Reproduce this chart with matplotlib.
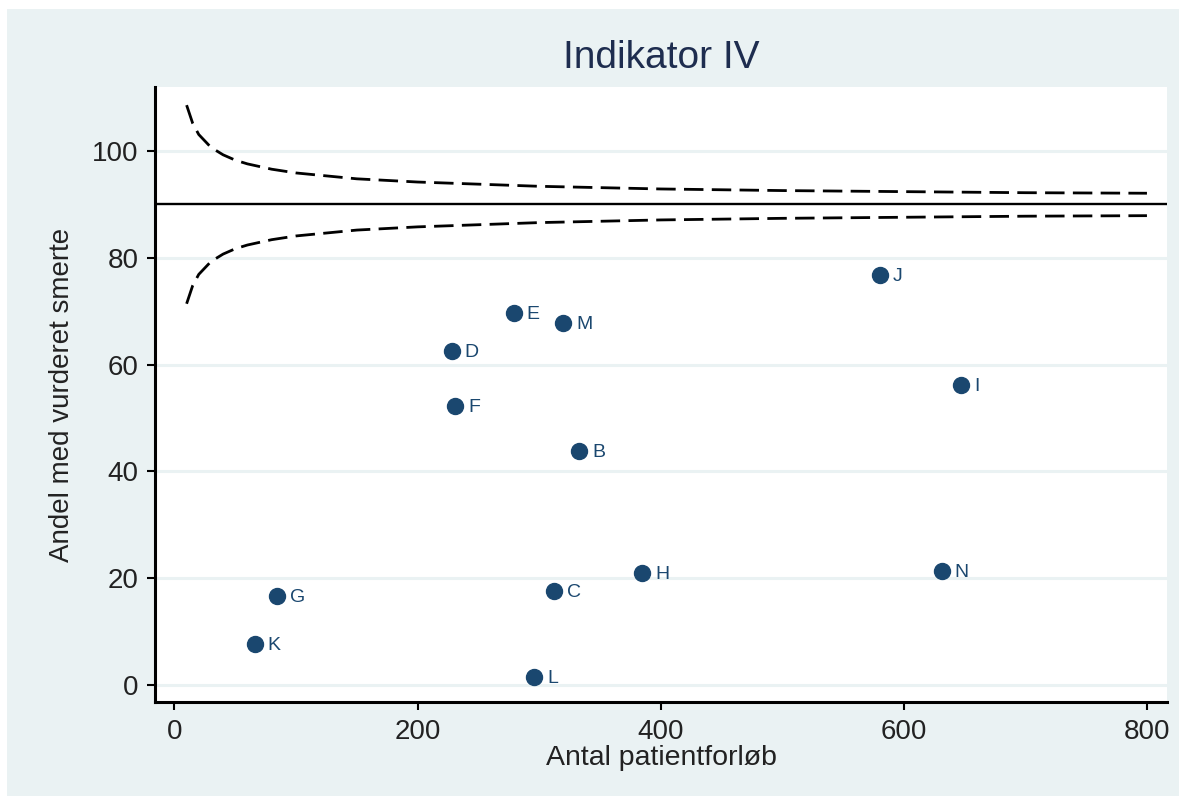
import matplotlib
matplotlib.use("Agg")
import matplotlib.pyplot as plt
from matplotlib.patches import Rectangle

# hospital units: number of patient courses vs share with pain assessed (%)
units = ['E', 'M', 'D', 'F', 'B', 'G', 'K', 'C', 'H', 'L', 'J', 'I', 'N']
n_patients = [279, 320, 228, 231, 333, 84, 66, 312, 385, 296, 580, 647, 631]
share = [69.7, 67.7, 62.5, 52.2, 43.8, 16.7, 7.6, 17.6, 20.9, 1.5, 76.7, 56.1, 21.3]

# overall level and 95% control limits
target = 90
limit_n = [10, 15, 20, 30, 40, 50, 60, 80, 100, 150, 200, 300, 400, 500, 600, 700, 800]
upper = [108.6, 105.2, 103.1, 100.7, 99.3, 98.3, 97.6, 96.6, 95.9, 94.8, 94.2,
         93.4, 92.9, 92.6, 92.4, 92.2, 92.1]
lower = [71.4, 74.8, 76.9, 79.3, 80.7, 81.7, 82.4, 83.4, 84.1, 85.2, 85.8,
         86.6, 87.1, 87.4, 87.6, 87.8, 87.9]

bg = '#eaf2f3'
navy = '#1a476f'
ink = '#222222'

fig = plt.figure(figsize=(11.79, 7.96), dpi=100, facecolor='white')
fig.patches.append(Rectangle((7 / 1179, 0), 1, 1 - 9 / 796, transform=fig.transFigure,
                             facecolor=bg, edgecolor='none', zorder=-10))

ax = fig.add_axes([155 / 1179, 1 - 702 / 796, 1012 / 1179, 615 / 796])
ax.set_facecolor('white')
ax.set_xlim(-16, 816.5)
ax.set_ylim(-3.2, 112.0)

ax.set_yticks([0, 20, 40, 60, 80, 100])
ax.set_xticks([0, 200, 400, 600, 800])
for v in [0, 20, 40, 60, 80, 100]:
    ax.axhline(v, color=bg, lw=2.2, zorder=0)

ax.plot(limit_n, upper, color='black', lw=2.0, ls=(0, (7, 3)), zorder=2)
ax.plot(limit_n, lower, color='black', lw=2.0, ls=(0, (7, 3)), zorder=2)
ax.axhline(target, color='black', lw=1.7, zorder=2)

ax.plot(n_patients, share, 'o', color=navy, ms=11.5, mec=navy, zorder=3)
for k in range(len(units)):
    ax.annotate(units[k], (n_patients[k], share[k]), xytext=(9.5, -1),
                textcoords='offset points', va='center', ha='left',
                color=navy, fontsize=14, family='Liberation Sans')

for s in ['top', 'right']:
    ax.spines[s].set_visible(False)
for s in ['left', 'bottom']:
    ax.spines[s].set_linewidth(2.2)
ax.tick_params(length=6, width=1.5, colors='black', labelcolor=ink,
               labelsize=20, pad=6)
for lab in ax.get_xticklabels() + ax.get_yticklabels():
    lab.set_family('Liberation Sans')

ax.set_xlabel('Antal patientforløb', fontsize=20.5, family='Liberation Sans', color=ink, labelpad=0)
ax.set_ylabel('Andel med vurderet smerte', fontsize=20, family='Liberation Sans', color=ink, labelpad=12)
ax.set_title('Indikator IV', fontsize=28, family='Liberation Sans', color='#1e2d4f', pad=14)

fig.savefig('out.png', dpi=100, facecolor=fig.get_facecolor())
